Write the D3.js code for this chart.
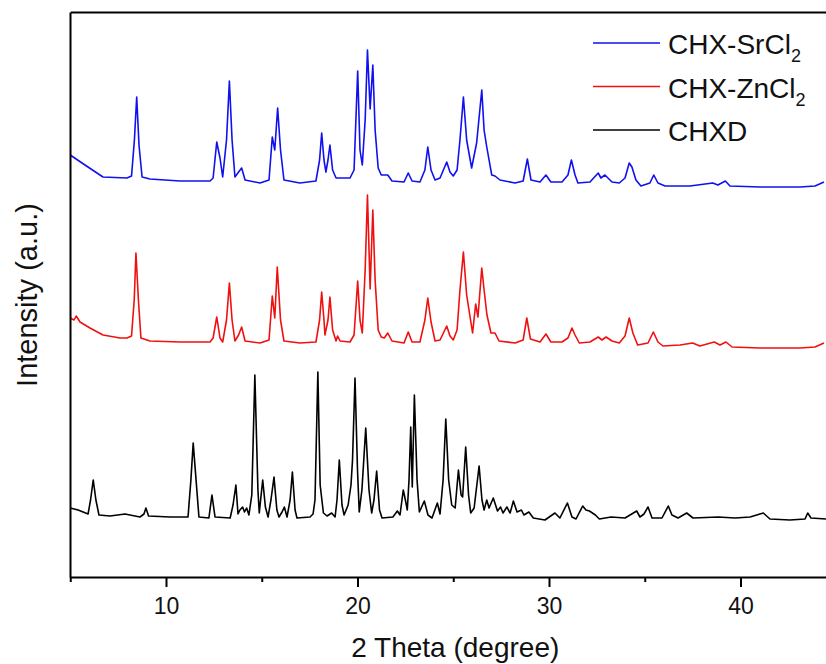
<!DOCTYPE html>
<html>
<head>
<meta charset="utf-8">
<script src="https://cdn.jsdelivr.net/npm/d3@7"></script>
<style>
  body { margin: 0; background: #fff; }
  svg { display: block; font-family: "Liberation Sans", Arial, sans-serif; }
</style>
</head>
<body>
<svg id="chart" width="826" height="664"></svg>
<script>

// [2 theta (degree), intensity (a.u.)], above each pattern's own baseline
const chxdPattern = [
  [5.0,12],[5.41,10],[5.67,8],[5.93,6],[6.06,20],[6.2,40],[6.34,20],[6.5,5],[7.08,4],[7.86,6],
  [8.64,3],[8.85,6],[8.95,12],[9.09,4],[10.21,3],[11.15,3],[11.3,40],[11.42,77],[11.57,40],[11.72,3],
  [12.24,2],[12.4,25],[12.56,3],[13.35,2],[13.5,15],[13.65,35],[13.76,6],[13.86,10],[14.0,13],[14.1,8],
  [14.21,12],[14.33,5],[14.48,25],[14.64,145],[14.8,30],[14.87,7],[15.05,40],[15.19,13],[15.33,3],[15.48,20],
  [15.64,43],[15.79,10],[15.9,3],[16.06,8],[16.18,13],[16.32,3],[16.48,20],[16.6,48],[16.74,10],[16.84,2],
  [17.52,3],[17.68,6],[17.78,20],[17.93,148],[18.05,35],[18.22,7],[18.41,4],[18.65,7],[18.83,3],[18.93,20],
  [19.05,60],[19.19,15],[19.3,5],[19.51,15],[19.66,35],[19.74,60],[19.87,142],[20.0,50],[20.09,8],[20.23,30],
  [20.43,92],[20.6,30],[20.74,7],[20.86,20],[21.0,49],[21.15,10],[21.28,2],[21.85,3],[22.08,9],[22.22,5],
  [22.39,30],[22.5,20],[22.6,10],[22.69,40],[22.78,93],[22.86,33],[22.97,125],[23.11,40],[23.23,8],[23.49,19],
  [23.68,5],[23.89,2],[24.17,17],[24.31,6],[24.47,40],[24.61,101],[24.76,40],[24.92,15],[25.1,12],[25.27,50],
  [25.41,25],[25.49,23],[25.65,73],[25.8,25],[25.91,7],[26.09,12],[26.35,54],[26.5,20],[26.61,10],[26.75,20],
  [26.87,12],[27.09,22],[27.31,9],[27.47,13],[27.6,7],[27.8,13],[27.97,7],[28.14,19],[28.33,8],[28.56,10],
  [28.69,5],[28.95,8],[29.18,2],[29.79,0],[30.31,7],[30.57,2],[30.96,17],[31.2,3],[31.41,1],[31.76,14],
  [31.93,10],[32.11,9],[32.42,5],[32.63,1],[33.24,3],[33.97,2],[34.58,9],[34.75,3],[34.96,6],[35.17,13],
  [35.38,2],[35.9,2],[36.23,14],[36.42,5],[36.74,2],[37.19,7],[37.52,2],[38.83,3],[39.72,2],[40.5,3],
  [41.19,7],[41.54,1],[42.58,0],[43.37,1],[43.51,7],[43.68,2],[44.47,1]
];

const chxZnPattern = [
  [5.0,30],[5.2,28],[5.31,32],[5.51,26],[6.03,20],[6.71,13],[7.6,10],[7.96,10],[8.2,12],[8.34,48],
  [8.43,95],[8.56,48],[8.69,10],[9.16,7],[10.73,6],[12.3,6],[12.46,10],[12.65,31],[12.82,10],[12.96,6],
  [13.16,28],[13.31,65],[13.45,28],[13.6,7],[13.79,13],[13.95,21],[14.13,7],[14.91,5],[15.38,8],[15.55,52],
  [15.68,30],[15.81,81],[15.98,28],[16.16,7],[16.99,5],[17.83,6],[18.02,28],[18.13,56],[18.25,28],[18.3,13],
  [18.46,28],[18.56,51],[18.7,18],[18.88,7],[18.96,12],[19.09,7],[19.61,6],[19.82,13],[20.01,67],[20.13,28],
  [20.25,15],[20.4,78],[20.52,153],[20.66,59],[20.8,138],[20.92,68],[21.08,18],[21.24,11],[21.4,10],[21.58,15],
  [21.8,7],[22.43,5],[22.65,16],[22.85,6],[23.26,6],[23.52,28],[23.67,50],[23.84,26],[24.05,7],[24.31,8],
  [24.66,22],[24.83,12],[25.0,8],[25.2,18],[25.35,58],[25.53,96],[25.7,53],[26.01,15],[26.17,44],[26.29,31],
  [26.49,80],[26.61,58],[26.76,33],[26.97,15],[27.18,15],[27.39,7],[28.23,5],[28.65,8],[28.84,30],[29.03,9],
  [29.53,6],[29.84,14],[30.1,6],[30.68,6],[30.99,10],[31.2,20],[31.36,13],[31.58,5],[32.14,6],[32.57,11],
  [32.77,8],[32.98,11],[33.29,7],[33.67,5],[33.97,12],[34.19,30],[34.38,15],[34.63,3],[35.17,5],[35.45,16],
  [35.69,6],[35.95,2],[36.84,3],[37.5,5],[37.88,2],[38.63,6],[38.93,3],[39.24,6],[39.56,1],[41.02,0],
  [43.11,0],[43.89,1],[44.36,5]
];

const chxSrPattern = [
  [5.0,32],[5.77,22],[6.71,10],[7.96,9],[8.2,11],[8.35,47],[8.47,90],[8.59,42],[8.75,10],[9.16,8],
  [10.73,6],[12.3,6],[12.46,9],[12.65,45],[12.82,29],[12.96,10],[13.16,47],[13.31,106],[13.45,47],[13.6,10],
  [13.79,15],[13.95,19],[14.13,7],[14.91,4],[15.38,7],[15.55,50],[15.68,37],[15.83,79],[15.98,37],[16.16,7],
  [16.99,4],[17.83,6],[18.02,27],[18.13,54],[18.25,27],[18.35,15],[18.46,27],[18.56,42],[18.7,17],[18.88,9],
  [19.61,9],[19.82,17],[20.01,116],[20.13,37],[20.25,22],[20.4,67],[20.52,137],[20.66,78],[20.8,122],[20.92,57],
  [21.08,19],[21.24,12],[21.58,12],[21.8,6],[22.43,5],[22.65,14],[22.85,6],[23.26,5],[23.52,17],[23.67,40],
  [23.84,17],[24.05,7],[24.31,9],[24.66,25],[24.83,15],[25.0,11],[25.2,17],[25.35,47],[25.53,90],[25.7,47],
  [25.96,19],[26.22,44],[26.49,97],[26.61,57],[26.75,40],[27.01,12],[27.18,11],[27.44,7],[28.23,4],[28.65,6],
  [28.87,28],[29.06,7],[29.53,5],[29.84,12],[30.1,5],[30.68,5],[30.99,12],[31.17,27],[31.36,12],[31.51,4],
  [32.14,5],[32.57,14],[32.71,9],[32.92,12],[33.29,5],[33.67,4],[33.97,9],[34.19,24],[34.33,20],[34.54,7],
  [34.8,1],[35.27,4],[35.47,12],[35.69,4],[36.06,1],[37.36,1],[38.55,4],[38.82,2],[39.21,6],[39.45,1],
  [41.02,0],[43.11,0],[43.89,1],[44.36,5]
];

// legend order (top to bottom) and vertical stacking offsets in a.u.
const seriesNames = ["CHX-SrCl", "CHX-ZnCl", "CHXD"];
const seriesSubs = ["2", "2", ""];
const seriesOffsets = [390, 229, 57];
const majorTicks = [10, 20, 30, 40];
const minorTicks = [5, 15, 25, 35, 45];

const patterns = [chxSrPattern, chxZnPattern, chxdPattern];
const colors = ["#1010f0", "#f01010", "#000000"];

const width = 826, height = 664;
const margin = {left: 70, top: 12, bottom: 87};
const degPx = 19.15;

const svg = d3.select("#chart");

const x = d3.scaleLinear()
  .domain([5, 45])
  .range([margin.left + 0.25, margin.left + 0.25 + 40 * degPx]);

const y = d3.scaleLinear()
  .domain([0, 565])
  .range([height - margin.bottom, margin.top]);

const line = d3.line()
  .x(d => x(d[0]))
  .y(d => y(d[1]));

// patterns
patterns.forEach((p, i) => {
  svg.append("path")
    .datum(p.map(d => [d[0], d[1] + seriesOffsets[i]]))
    .attr("fill", "none")
    .attr("stroke", colors[i])
    .attr("stroke-width", 1.6)
    .attr("stroke-linejoin", "round")
    .attr("d", line);
});

// axes
const bottom = svg.append("g")
  .attr("transform", "translate(0," + (height - margin.bottom) + ")")
  .call(d3.axisBottom(x).tickValues(majorTicks).tickSize(10).tickSizeOuter(0).tickPadding(11));

svg.append("g")
  .attr("transform", "translate(0," + (height - margin.bottom) + ")")
  .call(d3.axisBottom(x).tickValues(minorTicks).tickSize(5).tickSizeOuter(0).tickFormat(""))
  .select(".domain").remove();

svg.append("g")
  .attr("transform", "translate(0," + margin.top + ")")
  .call(d3.axisTop(x).tickValues([]).tickSizeOuter(0));

svg.append("g")
  .attr("transform", "translate(" + margin.left + ",0)")
  .call(d3.axisLeft(y).tickValues([]).tickSizeOuter(0));

svg.selectAll(".domain, .tick line")
  .attr("stroke", "#000")
  .attr("stroke-width", 2);

bottom.selectAll(".tick text")
  .attr("font-size", 23)
  .attr("font-family", "Liberation Sans, Arial, sans-serif")
  .attr("fill", "#111");

// axis titles
const xMid = (x.range()[0] + x.range()[1]) / 2;
svg.append("text")
  .attr("x", xMid + 2)
  .attr("y", 657)
  .attr("text-anchor", "middle")
  .attr("font-size", 28)
  .attr("fill", "#111")
  .text("2 Theta (degree)");

svg.append("text")
  .attr("transform", "translate(37,295) rotate(-90)")
  .attr("text-anchor", "middle")
  .attr("font-size", 29)
  .attr("fill", "#111")
  .text("Intensity (a.u.)");

// legend
const legend = svg.append("g");
seriesNames.forEach((name, i) => {
  const ly = 43 + i * 43.5;
  legend.append("line")
    .attr("x1", 593).attr("x2", 660)
    .attr("y1", ly).attr("y2", ly)
    .attr("stroke", colors[i])
    .attr("stroke-width", 1.6);
  const t = legend.append("text")
    .attr("x", 668)
    .attr("y", ly + 11)
    .attr("font-size", 28)
    .attr("fill", "#111")
    .text(name);
  if (seriesSubs[i]) {
    t.append("tspan")
      .attr("font-size", 18)
      .attr("dy", 8)
      .text(seriesSubs[i]);
  }
});

</script>
</body>
</html>
